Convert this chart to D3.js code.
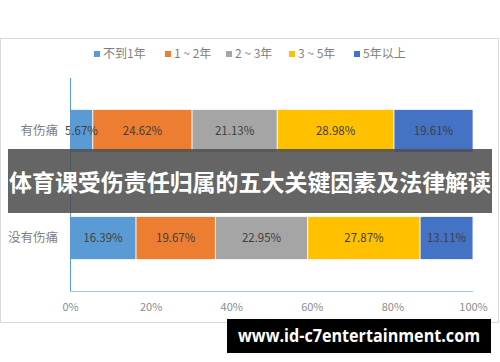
<!DOCTYPE html>
<html><head><meta charset="utf-8">
<script src="https://cdn.jsdelivr.net/npm/d3@7/dist/d3.min.js"></script>
<style>body{margin:0;background:#fff}svg{display:block}</style>
</head><body>
<script>
const categories = ["有伤痛", "没有伤痛"];
const seriesNames = ["不到1年", "1 ~ 2年", "2 ~ 3年", "3 ~ 5年", "5年以上"];
const colors = ["#5B9BD5", "#ED7D31", "#A5A5A5", "#FFC000", "#4472C4"];
const valuesHurt = [5.67, 24.62, 21.13, 28.98, 19.61];
const valuesNoHurt = [16.39, 19.67, 22.95, 27.87, 13.11];
const tickValues = [0, 20, 40, 60, 80, 100];
const title = "体育课受伤责任归属的五大关键因素及法律解读";
const watermark = "www.id-c7entertainment.com";

const W = 500, H = 362;
const font = "'Microsoft YaHei','Noto Sans CJK SC','Noto Sans',sans-serif";
const svg = d3.select("body").append("svg").attr("width", W).attr("height", H);

// chart frame
svg.append("rect").attr("x", 0.5).attr("y", 38.5).attr("width", 498).attr("height", 284)
  .attr("fill", "#fff").attr("stroke", "#d9d9d9");

const x = d3.scaleLinear().domain([0, 100]).range([70, 473]);
const y = d3.scaleBand().domain(categories).range([78, 291]).paddingInner(0.598).paddingOuter(0.294);

const rows = [valuesHurt, valuesNoHurt];
rows.forEach((vals, ri) => {
  let acc = 0;
  const segs = vals.map((v, i) => { const s = {i, v, x0: acc, x1: acc + v}; acc += v; return s; });
  const g = svg.append("g");
  g.selectAll("rect").data(segs).join("rect")
    .attr("x", d => x(d.x0)).attr("width", d => x(Math.min(d.x1, 100)) - x(d.x0))
    .attr("y", y(categories[ri])).attr("height", y.bandwidth())
    .attr("fill", d => colors[d.i]).attr("stroke", "#fff").attr("stroke-width", 0.75);
  g.selectAll("text").data(segs).join("text")
    .attr("x", d => (x(d.x0) + x(Math.min(d.x1, 100))) / 2)
    .attr("y", y(categories[ri]) + y.bandwidth() / 2)
    .attr("dy", "0.35em").attr("text-anchor", "middle")
    .attr("font-family", font).attr("font-size", 11.5).attr("fill", "#404040")
    .text(d => d.v.toFixed(2) + "%");
});

// axes lines
svg.append("line").attr("x1", 70.5).attr("x2", 70.5).attr("y1", 78).attr("y2", 291)
  .attr("stroke", "#5B9BD5").attr("stroke-width", 1);
svg.append("line").attr("x1", 70).attr("x2", 473).attr("y1", 291.5).attr("y2", 291.5)
  .attr("stroke", "#9DC3E6").attr("stroke-width", 1);

// x tick labels
const xAxis = d3.axisBottom(x).tickValues(tickValues).tickFormat(d => d + "%").tickSize(0).tickPadding(0);
const gx = svg.append("g").attr("transform", "translate(0,303)").call(xAxis);
gx.select(".domain").remove();
gx.selectAll("text").attr("font-family", font).attr("font-size", 11).attr("fill", "#8c8c8c");

// category labels
const yAxis = d3.axisLeft(y).tickSize(0).tickPadding(0);
const gy = svg.append("g").attr("transform", "translate(58,0)").call(yAxis);
gy.select(".domain").remove();
gy.selectAll("text").attr("font-family", font).attr("font-size", 12.5).attr("fill", "#7f7f7f");

// legend
const legendX = [94, 165, 226, 289, 354];
const lg = svg.append("g");
seriesNames.forEach((n, i) => {
  lg.append("rect").attr("x", legendX[i]).attr("y", 51).attr("width", 6).attr("height", 6).attr("fill", colors[i]);
  lg.append("text").attr("x", legendX[i] + 9).attr("y", 54).attr("dy", "0.35em")
    .attr("font-family", font).attr("font-size", 12).attr("fill", "#7f7f7f").text(n);
});

// title overlay
svg.append("rect").attr("x", 8).attr("y", 149).attr("width", 484).attr("height", 64)
  .attr("fill", "rgb(80,80,80)").attr("fill-opacity", 0.88);
svg.append("text").attr("x", 250).attr("y", 183).attr("dy", "0.35em").attr("text-anchor", "middle")
  .attr("font-family", font).attr("font-weight", "bold").attr("font-size", 23)
  .attr("fill", "#fff").attr("textLength", 482).attr("lengthAdjust", "spacingAndGlyphs").text(title);

// watermark
svg.append("rect").attr("x", 227).attr("y", 319).attr("width", 264).attr("height", 34).attr("fill", "#000");
svg.append("text").attr("x", 359).attr("y", 336).attr("dy", "0.35em").attr("text-anchor", "middle")
  .attr("font-family", "'Open Sans','DejaVu Sans',sans-serif").attr("font-weight", "bold").attr("font-size", 17)
  .attr("fill", "#fff").attr("textLength", 242).attr("lengthAdjust", "spacingAndGlyphs").text(watermark);
</script>
</body></html>
